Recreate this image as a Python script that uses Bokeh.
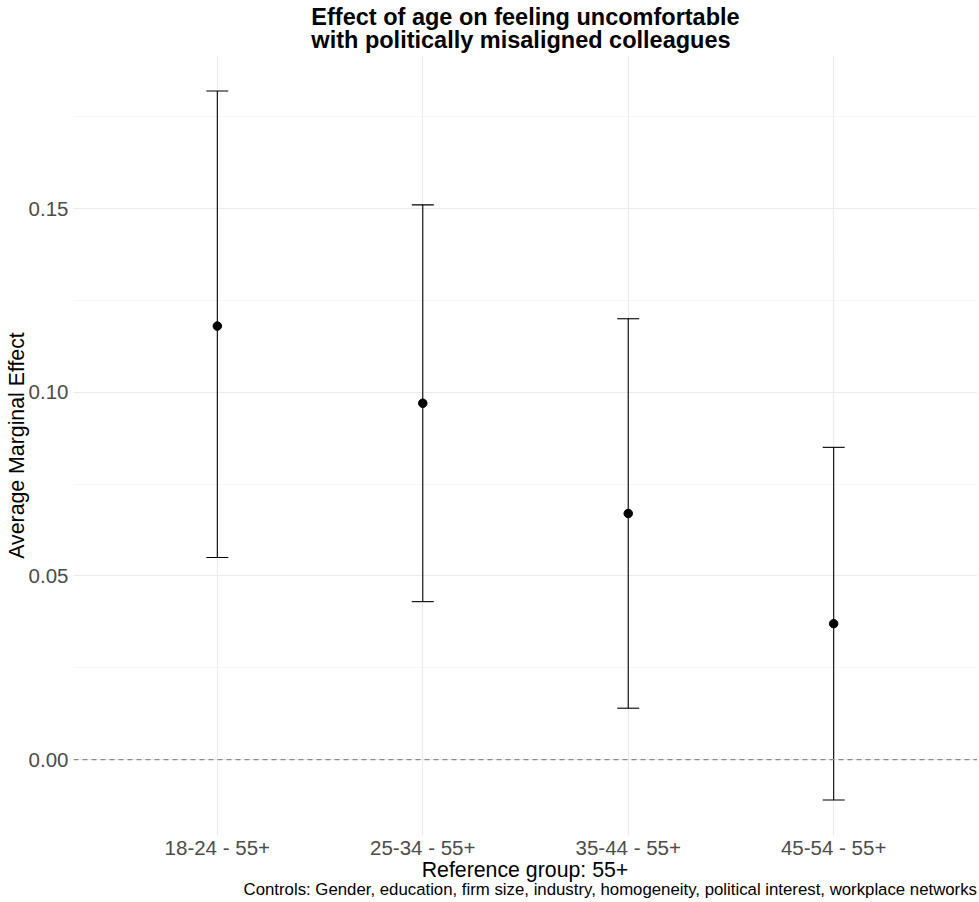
from bokeh.plotting import figure
from bokeh.layouts import column
from bokeh.models import (ColumnDataSource, FactorRange, Whisker, TeeHead, Span,
                          Div, SingleIntervalTicker)
from bokeh.embed import file_html
from bokeh.resources import INLINE

# ---- data ----
categories = ["18-24 - 55+", "25-34 - 55+", "35-44 - 55+", "45-54 - 55+"]
estimates = [0.118, 0.097, 0.067, 0.037]
lower_ci = [0.055, 0.043, 0.014, -0.011]
upper_ci = [0.182, 0.151, 0.120, 0.085]
y_ticks = [0.00, 0.05, 0.10, 0.15]
x_title = "Reference group: 55+"
caption_text = ("Controls: Gender, education, firm size, industry, homogeneity, "
                "political interest, workplace networks")

FONT = "Liberation Sans"
W = 977
FRAME_LEFT = 73   # width of the left axis panel
P_H = 861
DIV_H = 40

source = ColumnDataSource(dict(cat=categories, est=estimates,
                               lower=lower_ci, upper=upper_ci))

x_range = FactorRange(*categories, range_padding=0.2, range_padding_units="absolute")
span = max(upper_ci) - min(lower_ci)
y_start = min(lower_ci) - 0.05 * span
y_end = max(upper_ci) + 0.05 * span

p = figure(width=W, height=P_H, x_range=x_range, y_range=(y_start, y_end),
           output_backend="svg", toolbar_location=None,
           min_border_left=FRAME_LEFT, min_border_right=0, min_border_top=0, min_border_bottom=0)

p.outline_line_color = None
p.background_fill_color = "white"
p.border_fill_color = "white"

# title
p.title.text = "Effect of age on feeling uncomfortable\n with politically misaligned colleagues"
p.title.align = "center"
p.title.text_font = FONT
p.title.text_font_size = "23.5px"
p.title.text_font_style = "bold"
p.title.text_color = "black"
p.title.standoff = 4
p.title.offset = 0
p.title.text_line_height = 0.9

# axes
for ax in (p.xaxis[0], p.yaxis[0]):
    ax.axis_line_color = None
    ax.major_tick_line_color = None
    ax.minor_tick_line_color = None
    ax.major_tick_in = 0
    ax.major_tick_out = 0
    ax.minor_tick_in = 0
    ax.minor_tick_out = 0
    ax.major_label_text_font = FONT
    ax.major_label_text_font_size = "20.5px"
    ax.major_label_text_color = "#4D4D4D"
    ax.axis_label_text_font = FONT
    ax.axis_label_text_font_size = "21.3px"
    ax.axis_label_text_font_style = "normal"
    ax.axis_label_text_color = "black"

p.yaxis.axis_label = "Average Marginal Effect"
p.yaxis.ticker = SingleIntervalTicker(interval=0.05, num_minor_ticks=2)
p.yaxis.major_label_overrides = {t: f"{t:.2f}" for t in y_ticks}
p.yaxis.major_label_standoff = 5
p.yaxis.axis_label_standoff = -3

p.xaxis.major_label_standoff = 0

# grid
p.xgrid.grid_line_color = "#EBEBEB"
p.xgrid.grid_line_width = 1.1
p.ygrid.grid_line_color = "#EBEBEB"
p.ygrid.grid_line_width = 1.1
p.ygrid.minor_grid_line_color = "#F2F2F2"
p.ygrid.minor_grid_line_width = 0.6

# zero line
p.add_layout(Span(location=0, dimension="width", line_color="#8C8C8C",
                  line_width=1.1, line_dash="5 4"))

# error bars
wh = Whisker(base="cat", lower="lower", upper="upper", source=source,
             line_color="black", line_width=1.1,
             upper_head=TeeHead(size=22, line_color="black", line_width=1.1),
             lower_head=TeeHead(size=22, line_color="black", line_width=1.1))
p.add_layout(wh)

# points
p.scatter(x="cat", y="est", source=source, size=8.5, color="black")

# x-axis title and caption below the plot
below = Div(
    text=(f'<div style="font-family:\'{FONT}\';color:black;white-space:nowrap;width:{W}px">'
          f'<div style="padding-left:{FRAME_LEFT}px;text-align:center;font-size:21.3px;line-height:18px">{x_title}</div>'
          f'<div style="text-align:right;font-size:16.8px;line-height:22px">{caption_text}</div>'
          f'</div>'),
    width=W, height=DIV_H, margin=(0, 0, 0, 0))

layout = column(p, below, spacing=0)

open("out.html", "w").write(file_html(layout, INLINE))
